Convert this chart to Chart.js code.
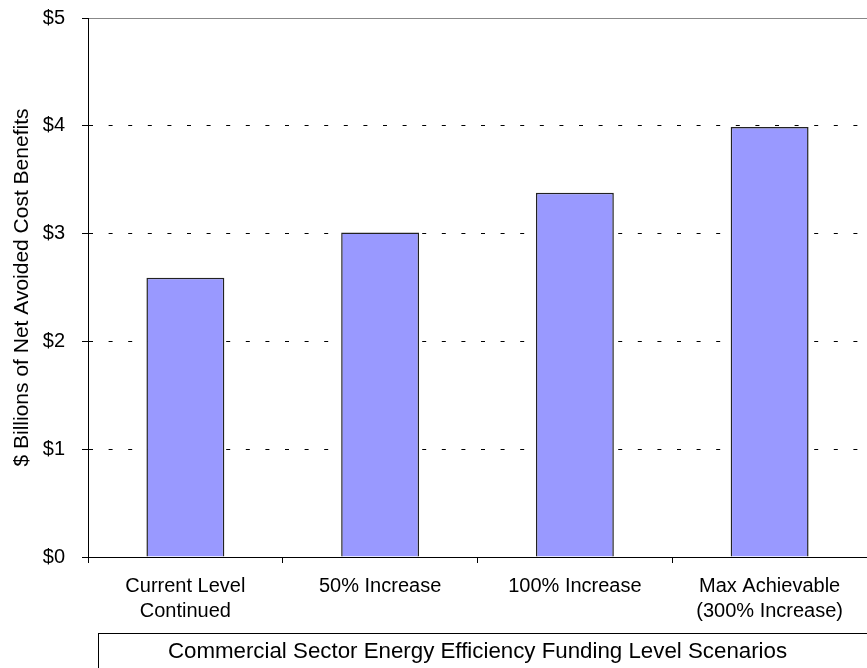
<!DOCTYPE html>
<html>
<head>
<meta charset="utf-8">
<script src="https://cdn.jsdelivr.net/npm/chart.js@4/dist/chart.umd.min.js"></script>
<style>
  html, body { margin: 0; padding: 0; background: #fff; }
  #wrap { width: 867px; height: 668px; position: relative; }
</style>
</head>
<body>
<div id="wrap"><canvas id="chart"></canvas></div>
<script>
// Funding level scenarios (x categories)
const scenarios = [
    ['Current Level', 'Continued'],
    '50% Increase',
    '100% Increase',
    ['Max Achievable', '(300% Increase)']
];

// $ billions of net avoided cost benefits
const benefits = [2.59, 3.01, 3.38, 3.99];

const yTicks = [0, 1, 2, 3, 4, 5];

const yTitle = '$ Billions of Net Avoided Cost Benefits';
const xTitle = 'Commercial Sector Energy Efficiency Funding Level Scenarios';

Chart.defaults.font.family = '"Liberation Sans", Arial, sans-serif';
Chart.defaults.color = '#000';

// box around the x axis title, like the original
const titleBox = {
    id: 'titleBox',
    afterDraw(chart) {
        const ctx = chart.ctx;
        const x = chart.scales.x;
        ctx.save();
        ctx.strokeStyle = '#000';
        ctx.lineWidth = 1;
        ctx.strokeRect(98.5, x.bottom - 34.5, chart.width, 60);
        ctx.restore();
    }
};

new Chart(document.getElementById('chart'), {
    type: 'bar',
    data: {
        labels: scenarios,
        datasets: [{
            data: benefits,
            backgroundColor: '#9999ff',
            borderColor: '#222',
            borderWidth: 1.5,
            barPercentage: 0.4,
            categoryPercentage: 1
        }]
    },
    options: {
        responsive: true,
        maintainAspectRatio: false,
        animation: false,
        layout: { padding: { top: 18, right: 0, left: 0, bottom: 0 } },
        plugins: {
            legend: { display: false },
            tooltip: { enabled: false }
        },
        scales: {
            x: {
                grid: {
                    offset: true,
                    drawOnChartArea: false,
                    tickLength: 6,
                    tickColor: '#000'
                },
                border: { color: '#000', width: 1 },
                ticks: {
                    font: { size: 20, lineHeight: 1.25 },
                    padding: 11,
                    maxRotation: 0
                },
                title: {
                    display: true,
                    text: xTitle,
                    font: { size: 22.3 },
                    padding: { top: 0, bottom: 3 }
                },
                afterFit(scale) {
                    scale.height = 111;
                    scale.paddingLeft = 0;
                    scale.paddingRight = 0;
                }
            },
            y: {
                min: 0,
                max: 5,
                afterBuildTicks(scale) {
                    scale.ticks = yTicks.map(v => ({ value: v }));
                },
                ticks: {
                    font: { size: 20 },
                    padding: 17,
                    callback: v => '$' + v
                },
                grid: {
                    tickLength: 6,
                    tickColor: '#000',
                    color: ctx => ctx.tick && ctx.tick.value === 5 ? '#888' :
                                  (ctx.tick && ctx.tick.value === 0 ? 'rgba(0,0,0,0)' : '#000'),
                    lineWidth: 1
                },
                border: {
                    color: '#000',
                    width: 1,
                    dash: ctx => ctx.tick && ctx.tick.value === 5 ? [] : [4, 15.6]
                },
                title: {
                    display: true,
                    text: yTitle,
                    font: { size: 21 },
                    padding: { top: 10, bottom: 0 }
                },
                afterFit(scale) {
                    scale.width = 88;
                    scale.paddingTop = 0;
                    scale.paddingBottom = 0;
                }
            }
        }
    },
    plugins: [titleBox]
});
</script>
</body>
</html>
